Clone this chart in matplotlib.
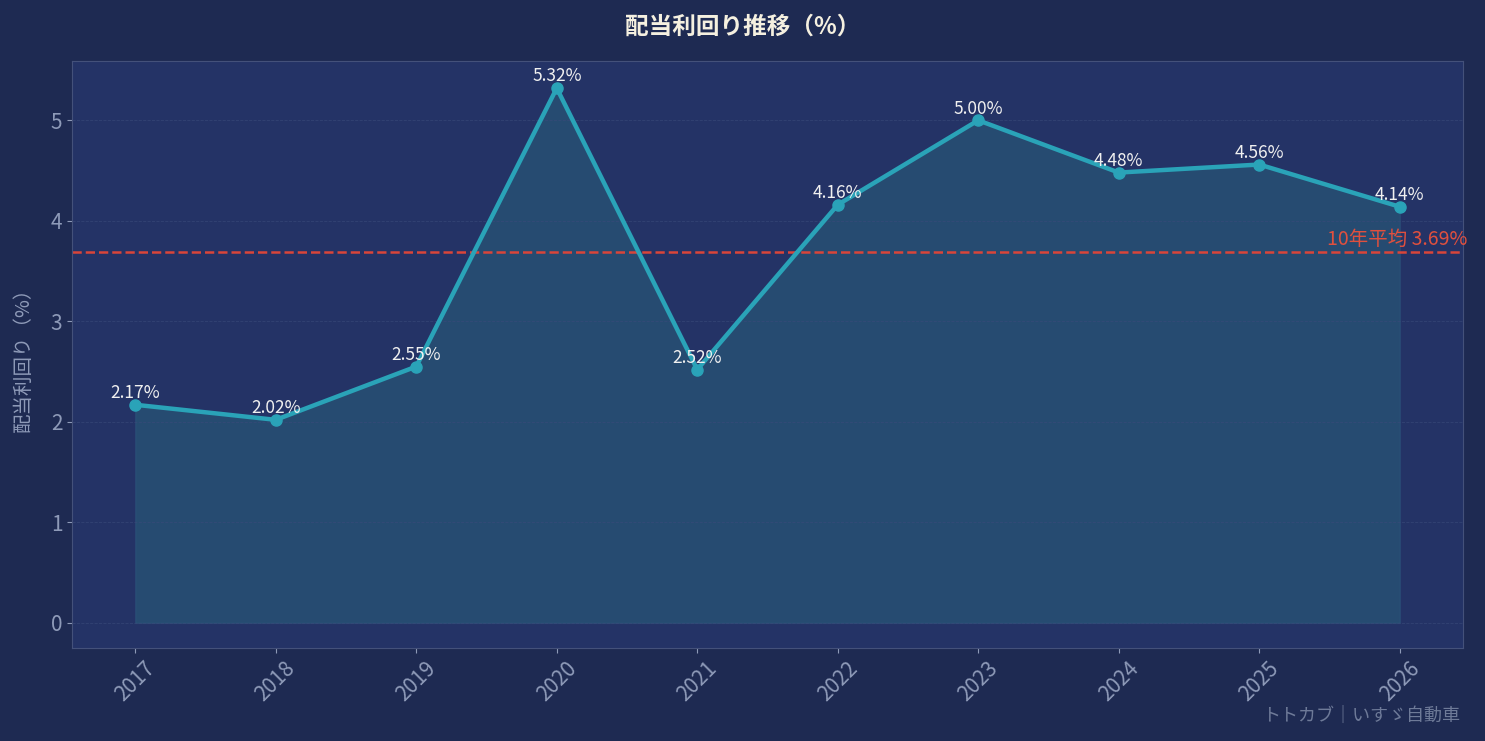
import matplotlib
matplotlib.use("Agg")
import matplotlib.pyplot as plt

plt.rcParams['font.family'] = ['Noto Sans CJK JP', 'DejaVu Sans']

years = [2017, 2018, 2019, 2020, 2021, 2022, 2023, 2024, 2025, 2026]
yields = [2.17, 2.02, 2.55, 5.32, 2.52, 4.16, 5.00, 4.48, 4.56, 4.14]
avg = 3.69
title = "配当利回り推移（%）"
ylabel = "配当利回り（%）"
avg_label = "10年平均 3.69%"
credit = "トトカブ｜いすゞ自動車"

fig = plt.figure(figsize=(14.85, 7.41), dpi=100, facecolor="#1e2a52")
ax = fig.add_axes([72/1485, 1-648/741, (1463-72)/1485, (648-61)/741])
ax.set_facecolor("#243366")
line_c = "#2aa3b8"
ax.fill_between(years, yields, 0, color="#2a6a80", alpha=0.45, edgecolor="#2f5a80")
ax.plot(years, yields, color=line_c, lw=3.2, marker="o", ms=8, zorder=3)
for x, y in zip(years, yields):
    ax.annotate(f"{y:.2f}%", (x, y), xytext=(0, 2), textcoords="offset points",
                ha="center", va="bottom", color="#f0f0f0", fontsize=12.5)
ax.axhline(avg, color="#d9453a", ls="--", lw=1.8)
ax.text(2026.48, avg + 0.02, avg_label, color="#e0503e", fontsize=14, ha="right", va="bottom")
ax.set_xlim(2017 - 0.45, 2026 + 0.45)
ax.set_ylim(-0.25, 5.59)
ax.set_xticks(years)
ax.set_xticklabels([str(y) for y in years], rotation=45, fontsize=15, color="#8e9ab8")
ax.set_yticks([0, 1, 2, 3, 4, 5])
ax.tick_params(axis="y", labelsize=15, colors="#8e9ab8")
ax.tick_params(axis="x", colors="#8e9ab8")
ax.grid(axis="y", color="#3a4a7a", ls="--", lw=0.6, alpha=0.7)
for s in ax.spines.values():
    s.set_color("#44517a")
ax.set_ylabel(ylabel, color="#8e9ab8", fontsize=14, labelpad=12)
fig.text(0.5, 1-27/741, title, ha="center", va="center", color="#f5f0e0", fontsize=17, fontweight="bold")
fig.text(1460/1485, 1-716/741, credit, ha="right", va="center", color="#6e7a98", fontsize=13)
fig.savefig("out.png", dpi=100, facecolor=fig.get_facecolor())
